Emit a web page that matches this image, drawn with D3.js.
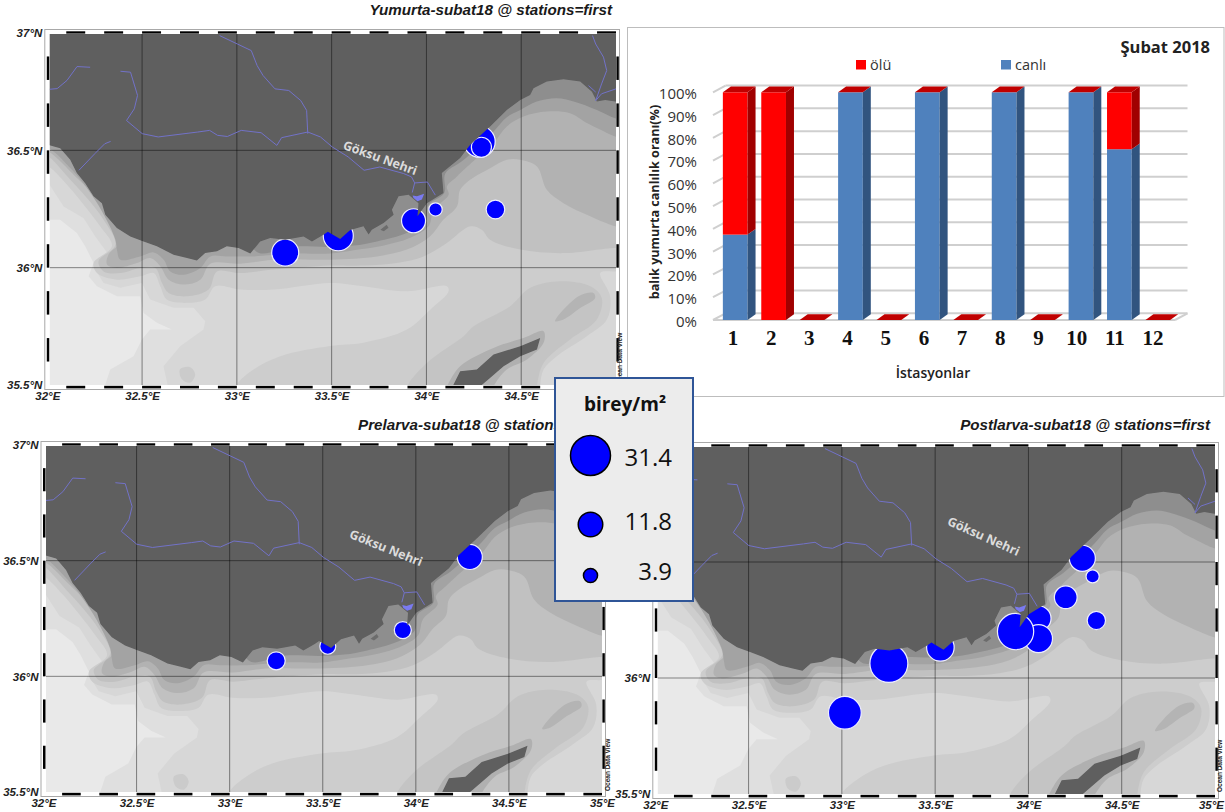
<!DOCTYPE html>
<html><head><meta charset="utf-8">
<script src="https://cdn.jsdelivr.net/npm/d3@7"></script>
<style>html,body{margin:0;padding:0;background:#fff}svg{display:block}</style>
</head><body><svg id="c" width="1225" height="812"></svg>
<script>
// ---------- geography (lon, lat) ----------
const coast=[[31.95,36.53],[32.007,36.523],[32.068,36.509],[32.121,36.46],[32.156,36.403],[32.2,36.36],[32.244,36.304],[32.288,36.275],[32.306,36.226],[32.367,36.169],[32.438,36.133],[32.508,36.112],[32.578,36.091],[32.666,36.055],[32.737,36.041],[32.789,36.031],[32.833,36.062],[32.895,36.07],[32.947,36.091],[33.009,36.084],[33.071,36.06],[33.123,36.112],[33.176,36.126],[33.255,36.119],[33.352,36.133],[33.396,36.112],[33.457,36.14],[33.48,36.153],[33.545,36.122],[33.598,36.16],[33.668,36.176],[33.695,36.141],[33.712,36.162],[33.774,36.19],[33.827,36.226],[33.818,36.247],[33.853,36.304],[33.906,36.311],[33.958,36.275],[33.953,36.219],[34.002,36.275],[34.09,36.318],[34.081,36.403],[34.178,36.467],[34.231,36.524],[34.336,36.602],[34.424,36.672],[34.495,36.715],[34.547,36.736],[34.565,36.765],[34.635,36.793],[34.723,36.803],[34.811,36.793],[34.873,36.75],[34.899,36.708],[34.943,36.715],[34.996,36.708],[35.05,36.71],[35.05,37.05],[31.95,37.05]];
const islet=[[33.757,36.162],[33.79,36.183],[33.8,36.17],[33.775,36.155]];
const cyprus=[[34.13,35.45],[34.143,35.502],[34.178,35.559],[34.266,35.566],[34.354,35.63],[34.495,35.665],[34.6,35.7],[34.583,35.651],[34.495,35.623],[34.407,35.58],[34.337,35.531],[34.284,35.495],[34.25,35.45]];
const lagoon=[[33.927,36.308],[33.95,36.304],[33.988,36.315],[33.976,36.29],[33.953,36.283],[33.932,36.297]];
const level1=[[31.95,36.204],[32.068,36.204],[32.156,36.148],[32.2,36.091],[32.244,36.02],[32.218,35.963],[32.262,35.921],[32.367,35.878],[32.49,35.878],[32.508,35.807],[32.578,35.765],[32.657,35.736],[32.543,35.736],[32.499,35.694],[32.455,35.623],[32.332,35.566],[32.306,35.502],[32.3,35.45],[35.05,35.45],[35.05,37.05],[31.95,37.05]];
const level2=[[31.95,36.36],[32.007,36.36],[32.086,36.261],[32.192,36.211],[32.253,36.133],[32.323,36.056],[32.253,35.992],[32.297,35.935],[32.385,35.914],[32.499,35.935],[32.543,35.864],[32.666,35.829],[32.772,35.829],[32.833,35.772],[32.824,35.736],[32.701,35.665],[32.613,35.58],[32.64,35.48],[32.64,35.45],[35.05,35.45],[35.05,37.05],[31.95,37.05]];
const level3=[[33,35.45],[33,35.5],[33.088,35.566],[33.229,35.623],[33.492,35.666],[33.668,35.68],[33.897,35.736],[34.02,35.821],[34.117,35.899],[34.108,35.921],[33.897,35.899],[33.668,35.921],[33.493,35.935],[33.194,35.907],[33.018,35.907],[32.886,35.921],[32.833,35.864],[32.737,35.85],[32.631,35.864],[32.596,35.921],[32.561,35.977],[32.49,35.963],[32.367,35.949],[32.262,35.977],[32.244,36.02],[32.341,36.091],[32.279,36.176],[32.192,36.268],[32.112,36.346],[32.007,36.431],[31.95,36.45],[31.95,37.05],[35.05,37.05],[35.05,35.99],[34.996,35.984],[34.917,35.977],[34.969,35.878],[34.952,35.779],[34.846,35.708],[34.688,35.623],[34.618,35.566],[34.6,35.495],[34.6,35.45]];
const ridge=[[33.9,35.45],[33.9,35.495],[34.002,35.594],[34.196,35.708],[34.249,35.75],[34.442,35.836],[34.548,35.914],[34.706,35.942],[34.864,35.921],[34.925,35.871],[34.899,35.779],[34.758,35.694],[34.618,35.594],[34.583,35.495],[34.58,35.45]];
const ridgeCore=[[34.679,35.772],[34.802,35.878],[34.881,35.892],[34.89,35.871],[34.811,35.828],[34.723,35.779]];
const cyprusHalo=[[34.08,35.45],[34.108,35.495],[34.178,35.58],[34.354,35.658],[34.512,35.7],[34.618,35.729],[34.618,35.68],[34.53,35.609],[34.424,35.566],[34.354,35.495],[34.33,35.45]];
const seamount=[[32.7,35.567],[32.754,35.576],[32.78,35.545],[32.754,35.51],[32.71,35.524]];
const level4=[[35.05,36.08],[34.996,36.084],[34.723,36.062],[34.495,36.077],[34.336,36.119],[34.292,36.162],[34.231,36.176],[34.108,36.105],[33.985,36.048],[33.844,36.02],[33.668,36.009],[33.493,36.009],[33.194,35.992],[33.018,35.977],[32.895,35.984],[32.851,35.907],[32.737,35.878],[32.64,35.892],[32.605,35.935],[32.57,35.999],[32.49,35.999],[32.385,35.977],[32.297,35.984],[32.27,36.027],[32.359,36.098],[32.297,36.204],[32.209,36.297],[32.13,36.367],[32.007,36.474],[31.95,36.5],[31.95,37.05],[35.05,37.05]];
const level5=[[35.05,36.17],[34.996,36.176],[34.864,36.219],[34.723,36.275],[34.635,36.332],[34.583,36.431],[34.495,36.46],[34.424,36.46],[34.336,36.424],[34.231,36.375],[34.178,36.332],[34.161,36.261],[34.09,36.205],[34.02,36.134],[33.897,36.077],[33.739,36.048],[33.493,36.034],[33.194,36.034],[33.018,36.017],[32.86,36.017],[32.807,35.949],[32.719,35.928],[32.64,35.949],[32.596,36.006],[32.543,36.041],[32.473,36.02],[32.367,35.999],[32.315,36.013],[32.323,36.056],[32.394,36.119],[32.315,36.226],[32.236,36.318],[32.148,36.389],[32.007,36.495],[31.95,36.51],[31.95,37.05],[35.05,37.05]];
const level6=[[35.05,36.55],[34.996,36.559],[34.899,36.595],[34.846,36.616],[34.758,36.658],[34.635,36.665],[34.512,36.644],[34.424,36.602],[34.354,36.531],[34.266,36.467],[34.161,36.389],[34.108,36.346],[34.117,36.311],[34.038,36.247],[34.011,36.176],[33.915,36.127],[33.756,36.091],[33.616,36.074],[33.493,36.06],[33.299,36.06],[33.088,36.048],[32.947,36.048],[32.86,36.048],[32.807,35.999],[32.719,35.97],[32.649,35.984],[32.614,36.034],[32.561,36.065],[32.49,36.048],[32.385,36.034],[32.367,36.077],[32.359,36.119],[32.288,36.24],[32.209,36.339],[32.13,36.417],[32.007,36.51],[31.95,36.52],[31.95,37.05],[35.05,37.05]];
const level7=[[35.05,36.63],[34.996,36.637],[34.899,36.672],[34.776,36.708],[34.688,36.722],[34.582,36.708],[34.495,36.672],[34.424,36.641],[34.354,36.58],[34.266,36.509],[34.187,36.453],[34.099,36.4],[34.094,36.318],[34.011,36.268],[33.994,36.197],[33.897,36.148],[33.739,36.112],[33.616,36.094],[33.493,36.088],[33.3,36.09],[33.1,36.07],[33.09,36.5],[35.05,36.9]];
const seaLevels=[level1,level2,level3,ridge,cyprusHalo,ridgeCore,seamount,level4,level5,level6,level7];
const seaShades=["#dfdfdf","#d7d7d7","#cdcdcd","#c4c4c4","#b0b0b0","#b4b4b4","#cbcbcb","#c1c1c1","#b2b2b2","#a3a3a3","#8e8e8e"];
const rivers=[
 [[32.909,36.989],[33.003,36.953],[33.076,36.925],[33.107,36.861],[33.138,36.819],[33.201,36.762],[33.274,36.755],[33.337,36.712],[33.368,36.67],[33.374,36.571]],
 [[32.386,36.837],[32.439,36.833],[32.476,36.734],[32.459,36.677],[32.418,36.627],[32.501,36.571],[32.585,36.557],[32.794,36.578],[32.856,36.585],[32.898,36.564],[32.95,36.559],[33.023,36.585],[33.128,36.575],[33.211,36.521],[33.236,36.554],[33.374,36.578],[33.441,36.557],[33.504,36.514],[33.587,36.472],[33.671,36.415],[33.754,36.429],[33.88,36.401],[33.921,36.387],[33.938,36.361],[34.005,36.365],[34.047,36.309]],
 [[33.938,36.361],[33.925,36.32]],
 [[32.01,36.76],[32.052,36.763],[32.104,36.798],[32.157,36.857],[32.226,36.854]],
 [[32.167,36.415],[32.251,36.486],[32.303,36.528],[32.334,36.538]],
 [[34.876,36.989],[34.893,36.953],[34.934,36.897],[34.951,36.84],[34.924,36.783],[34.893,36.712]],
 [[34.855,36.776],[34.893,36.748]],
 [[34.893,36.712],[34.924,36.741],[35,36.762]]
];
// ---------- stations: lon, lat, density (birey/m2) ----------
const yumurtaStations=[[33.255,36.064,14.3],[33.535,36.136,17.7],[33.932,36.2,11.3],[34.048,36.248,3.5],[34.364,36.248,6.8],[34.28,36.537,19.3],[34.29,36.513,7.9]];
const prelarvaStations=[[33.25,36.067,6.4],[33.527,36.13,5],[33.93,36.2,5.7],[34.29,36.516,12.3]];
const postlarvaStations=[[33.252,36.063,28.3],[33.016,35.85,21.1],[33.528,36.132,14.9],[34.054,36.257,12.3],[34.054,36.17,15.4],[33.931,36.2,25.8],[34.2,36.348,10.2],[34.364,36.248,6.6],[34.289,36.516,13.3],[34.344,36.438,3.4]];
const legendValues=[31.4,11.8,3.9];
const lonTicks=[32,32.5,33,33.5,34,34.5,35];
const latTicks=[35.5,36,36.5,37];
// ---------- bar chart ----------
const stationsBar=["1","2","3","4","5","6","7","8","9","10","11","12"];
const canli=[37.5,0,0,100,0,100,0,100,0,100,75,0];
const olu=[62.5,100,0,0,0,0,0,0,0,0,25,0];
const pctTicks=[0,10,20,30,40,50,60,70,80,90,100];

const svg=d3.select("#c");
const size=d3.scaleSqrt().domain([0,31.4]).range([0,20]);
const defs=svg.append("defs");
defs.append("filter").attr("id","soft").attr("x","-2%").attr("y","-2%").attr("width","104%").attr("height","104%")
  .append("feGaussianBlur").attr("stdDeviation",0.6);

function drawMap(o){
  const xs=d3.scaleLinear().domain([32,35]).range([o.x0,o.x1]);
  const ys=d3.scaleLinear().domain([35.5,37]).range([o.y1,o.y0]);
  const g=svg.append("g");
  const poly=d3.line().x(d=>xs(d[0])).y(d=>ys(d[1])).curve(d3.curveLinearClosed);
  const smooth=d3.line().x(d=>xs(d[0])).y(d=>ys(d[1])).curve(d3.curveCatmullRomClosed.alpha(0.5));
  const open=d3.line().x(d=>xs(d[0])).y(d=>ys(d[1])).curve(d3.curveLinear);
  const clipId="clip"+o.id, landId="land"+o.id;
  defs.append("clipPath").attr("id",clipId).append("rect")
    .attr("x",o.x0+2.5).attr("y",o.y0+1).attr("width",o.x1-o.x0-2.5).attr("height",o.y1-o.y0-1);
  defs.append("clipPath").attr("id",landId).selectAll("path").data([coast,cyprus]).join("path").attr("d",poly);
  // frame
  g.append("rect").attr("x",o.x0-2.5).attr("y",o.y0-3.5).attr("width",o.x1-o.x0+6).attr("height",o.y1-o.y0+8)
    .attr("fill","#fff").attr("stroke","#a8a8a8");
  const lonBlocks=d3.range(1,30,2).map(i=>32+i/10), latBlocks=d3.range(1,15,2).map(i=>35.5+i/10);
  const fr=g.append("g").attr("fill","#000");
  fr.selectAll(".t").data(lonBlocks).join("rect").attr("x",d=>xs(d)).attr("width",d=>xs(d+.1)-xs(d)).attr("y",o.y0-1.7).attr("height",2.3);
  fr.selectAll(".b").data(lonBlocks).enter().append("rect").attr("x",d=>xs(d)).attr("width",d=>xs(d+.1)-xs(d)).attr("y",o.y1+.8).attr("height",2.6);
  fr.selectAll(".l").data(latBlocks).enter().append("rect").attr("y",d=>ys(d+.1)).attr("height",d=>ys(d)-ys(d+.1)).attr("x",o.x0-.5).attr("width",2.5);
  fr.selectAll(".r").data(latBlocks).enter().append("rect").attr("y",d=>ys(d+.1)).attr("height",d=>ys(d)-ys(d+.1)).attr("x",o.x1+.4).attr("width",2.4);
  // sea
  const map=g.append("g").attr("clip-path",`url(#${clipId})`);
  const sea=map.append("g").attr("filter","url(#soft)");
  sea.append("rect").attr("x",o.x0-5).attr("y",o.y0-5).attr("width",o.x1-o.x0+10).attr("height",o.y1-o.y0+10).attr("fill","#e9e9e9");
  sea.selectAll("path").data(seaLevels).join("path").attr("d",(d,i)=>seaLevels[i]===level1||seaLevels[i]===level2?poly(d):smooth(d)).attr("fill",(d,i)=>seaShades[i]);
  const gridLines=sel=>{
    sel.selectAll(".v").data(lonTicks.slice(1,-1)).enter().append("line").attr("x1",d=>xs(d)).attr("x2",d=>xs(d)).attr("y1",o.y0).attr("y2",o.y1);
    sel.selectAll(".h").data(latTicks.slice(1,-1)).enter().append("line").attr("y1",d=>ys(d)).attr("y2",d=>ys(d)).attr("x1",o.x0).attr("x2",o.x1);
    sel.attr("stroke","#000").attr("stroke-opacity",.45).attr("stroke-width",1);
  };
  gridLines(map.append("g"));
  // stations sit under the land layer, as in the source
  map.append("g").selectAll("circle").data(o.stations).join("circle")
    .attr("cx",d=>xs(d[0])).attr("cy",d=>ys(d[1])).attr("r",d=>size(d[2]))
    .attr("fill","#0000ff").attr("stroke","#eef").attr("stroke-width",1.2);
  const land=map.append("g").attr("filter","url(#soft)");
  land.append("path").attr("d",poly(coast)).attr("fill","#5e5e5e");
  land.append("path").attr("d",poly(cyprus)).attr("fill","#5e5e5e");
  land.append("path").attr("d",poly(islet)).attr("fill","#6c6c6c");
  gridLines(map.append("g").attr("clip-path",`url(#${landId})`));
  map.append("g").attr("fill","none").attr("stroke","#7272c8").attr("stroke-width",1)
    .selectAll("path").data(rivers).join("path").attr("d",open);
  map.append("path").attr("d",poly(lagoon)).attr("fill","#7a7af0");
  g.append("text").attr("transform",`translate(${xs(o.label[0])},${ys(o.label[1])}) rotate(${o.label[2]})`)
    .attr("text-anchor","middle").attr("dy","0.35em").attr("font-family","Open Sans").attr("font-weight",700)
    .attr("font-size",12.5).attr("fill","#dcdcdc").text("Göksu Nehri");
  // axes (labels the legend panel hides in the source are left out)
  const axL=g.append("g").attr("transform",`translate(${o.x0},0)`).call(d3.axisLeft(ys).tickValues(latTicks.filter(d=>!(o.hideLat||[]).includes(d))).tickSize(0).tickPadding(5).tickFormat(d=>d+"°N"));
  const axB=g.append("g").attr("transform",`translate(0,${o.y1})`).call(d3.axisBottom(xs).tickValues(lonTicks.filter(d=>!(o.hideLon||[]).includes(d))).tickSize(0).tickPadding(7).tickFormat(d=>d+"°E"));
  [axL,axB].forEach(a=>{a.select(".domain").remove();a.selectAll("text").attr("font-family","Liberation Sans").attr("font-weight",700).attr("font-style","italic").attr("font-size",11.5).attr("fill","#222");});
  if(o.nudgeLast) axB.selectAll("text").filter(d=>d===35).attr("dx",o.nudgeLast);
  g.append("text").attr("x",o.title[0]).attr("y",o.title[1]).attr("text-anchor",o.title[2]).attr("dy","0.35em")
    .attr("font-family","Liberation Sans").attr("font-weight",700).attr("font-style","italic").attr("font-size",15.2).attr("fill","#1a1a1a").text(o.name);
  if(o.odv) g.append("text").attr("transform",`translate(${o.odv[0]},${o.odv[1]}) rotate(-90)`).attr("font-family","Liberation Sans").attr("font-weight",700).attr("font-size",6.5).attr("fill","#222").text("Ocean Data View");
}
drawMap({id:1,name:"Yumurta-subat18 @ stations=first",x0:47.3,x1:616,y0:33,y1:385,stations:yumurtaStations,label:[33.756,36.468,20],title:[612,10,"end"],odv:[622,385],hideLon:[35]});
drawMap({id:2,name:"Prelarva-subat18 @ stations=first",x0:43.5,x1:602,y0:445,y1:792,stations:prelarvaStations,label:[33.84,36.555,22],title:[358,425,"start"],odv:[610,791]});
drawMap({id:3,name:"Postlarva-subat18 @ stations=first",x0:655.3,x1:1215,y0:446,y1:794,stations:postlarvaStations,label:[33.76,36.611,24],title:[1210,425,"end"],odv:[1222,792],hideLat:[36.5,37],nudgeLast:-4});

// ---------- bar panel ----------
(function(){
  const F="Open Sans";
  const g=svg.append("g");
  g.append("rect").attr("x",627.5).attr("y",27.5).attr("width",596.5).attr("height",369).attr("fill","#fff").attr("stroke","#bdbdbd");
  const x=d3.scaleBand().domain(stationsBar).range([716,1177]);
  const y=d3.scaleLinear().domain([0,100]).range([320,92.3]);
  const L=713,R=1175,dxW=12.5,dyW=6.7,w=24.7,dx=8,dy=5.7;
  const grid=g.append("g").attr("stroke","#cfcfcf").attr("stroke-width",2);
  grid.selectAll(".b").data(pctTicks).enter().append("line").attr("x1",L+dxW).attr("x2",R+dxW).attr("y1",d=>y(d)-dyW).attr("y2",d=>y(d)-dyW);
  grid.selectAll(".s").data(pctTicks).enter().append("line").attr("x1",L).attr("x2",L+dxW).attr("y1",d=>y(d)).attr("y2",d=>y(d)-dyW);
  grid.append("line").attr("x1",L).attr("x2",R).attr("y1",y(0)).attr("y2",y(0));
  grid.append("line").attr("x1",R).attr("x2",R+dxW).attr("y1",y(0)).attr("y2",y(0)-dyW);
  const bars=g.append("g");
  const para=pts=>"M"+pts.map(p=>p.join(",")).join("L")+"Z";
  stationsBar.forEach((s,i)=>{
    const bx=x(s)+(x.bandwidth()-w)/2;
    const seg=(a,b,front,side)=>{
      if(b<=a) return;
      bars.append("rect").attr("x",bx).attr("y",y(b)).attr("width",w).attr("height",y(a)-y(b)).attr("fill",front);
      bars.append("path").attr("d",para([[bx+w,y(a)],[bx+w+dx,y(a)-dy],[bx+w+dx,y(b)-dy],[bx+w,y(b)]])).attr("fill",side);
    };
    seg(0,canli[i],"#4f81bd","#31547f");
    seg(canli[i],canli[i]+olu[i],"#ff0000","#a00000");
    const t=canli[i]+olu[i];
    bars.append("path").attr("d",para([[bx,y(t)],[bx+w,y(t)],[bx+w+dx,y(t)-dy],[bx+dx,y(t)-dy]])).attr("fill","#c00000");
  });
  const ay=g.append("g").attr("transform","translate(702,1.5)").call(d3.axisLeft(y).tickValues(pctTicks).tickSize(0).tickPadding(5).tickFormat(d=>d+"%"));
  ay.select(".domain").remove();
  ay.selectAll("text").attr("font-family",F).attr("font-size",15).attr("fill","#333");
  const lx=d3.scalePoint().domain(stationsBar).range([732.5,1152.5]);
  const ax=g.append("g").attr("transform","translate(0,330)").call(d3.axisBottom(lx).tickSize(0).tickPadding(0));
  ax.select(".domain").remove();
  ax.selectAll("text").attr("font-family","Liberation Serif").attr("font-weight",700).attr("font-size",21).attr("fill","#111");
  g.append("text").attr("transform","translate(654.5,202) rotate(-90)").attr("text-anchor","middle").attr("dy","0.35em").attr("font-family",F).attr("font-weight",700).attr("font-size",12.6).attr("fill","#222").text("balık yumurta canlılık oranı(%)");
  g.append("text").attr("x",933).attr("y",373).attr("text-anchor","middle").attr("dy","0.35em").attr("font-family",F).attr("font-weight",600).attr("font-size",14).attr("fill","#222").text("İstasyonlar");
  g.append("text").attr("x",1210).attr("y",47).attr("text-anchor","end").attr("dy","0.35em").attr("font-family",F).attr("font-weight",700).attr("font-size",16.5).attr("fill","#222").text("Şubat 2018");
  g.append("rect").attr("x",856).attr("y",60).attr("width",10).attr("height",9.5).attr("fill","#ff0000");
  g.append("text").attr("x",870).attr("y",64.5).attr("dy","0.35em").attr("font-family",F).attr("font-size",14.5).attr("fill","#333").text("ölü");
  g.append("rect").attr("x",1001).attr("y",60).attr("width",10).attr("height",9.5).attr("fill","#4f81bd");
  g.append("text").attr("x",1015).attr("y",64.5).attr("dy","0.35em").attr("font-family",F).attr("font-size",14.5).attr("fill","#333").text("canlı");
})();

// ---------- bubble legend ----------
(function(){
  const g=svg.append("g");
  g.append("rect").attr("x",555).attr("y",378).attr("width",138).attr("height",223).attr("fill","#ececec").attr("stroke","#2f5597").attr("stroke-width",2);
  g.append("text").attr("x",625).attr("y",404).attr("text-anchor","middle").attr("dy","0.35em").attr("font-family","Open Sans").attr("font-weight",700).attr("font-size",19).attr("fill","#111").text("birey/m²");
  const cy=d3.scaleOrdinal().domain(legendValues).range([455.5,524.5,575.5]);
  const ty=d3.scaleOrdinal().domain(legendValues).range([458,521.5,571.5]);
  g.selectAll("circle").data(legendValues).join("circle").attr("cx",590.5).attr("cy",d=>cy(d)).attr("r",d=>size(d)).attr("fill","#0000ff").attr("stroke","#000").attr("stroke-width",1.5);
  g.selectAll(".v").data(legendValues).enter().append("text").attr("x",672).attr("y",d=>ty(d)).attr("text-anchor","end").attr("dy","0.35em").attr("font-family","Open Sans").attr("font-size",24).attr("fill","#111").text(d=>d);
})();
</script></body></html>
